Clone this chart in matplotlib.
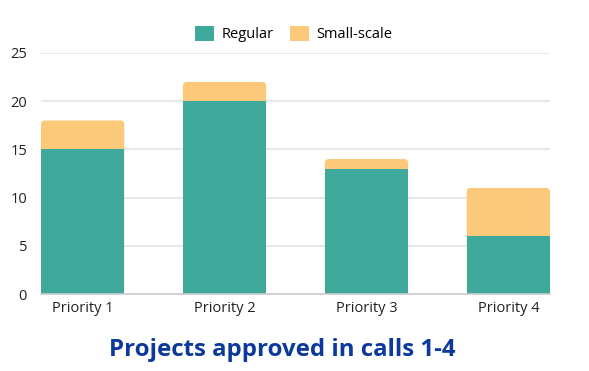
import matplotlib
matplotlib.use("Agg")
import matplotlib.pyplot as plt
from matplotlib.patches import FancyBboxPatch, Patch
import numpy as np

categories = ["Priority 1", "Priority 2", "Priority 3", "Priority 4"]
regular = [15, 20, 13, 6]
small_scale = [3, 2, 1, 5]
yticks = [0, 5, 10, 15, 20, 25]

teal = "#3ea89a"
orange = "#fcc97b"
title_color = "#0b3a9c"

plt.rcParams["font.family"] = ["Open Sans", "DejaVu Sans"]

fig = plt.figure(figsize=(5.89, 3.71), dpi=100)
ax = fig.add_axes([41 / 589, 77 / 371, 509 / 589, 241 / 371])

x = np.arange(len(categories))
width = 0.587
ax.set_xlim(-width / 2, len(categories) - 1 + width / 2)
ax.set_ylim(0, 25)

# px -> data scale, for rounded tops
x_per_px = (ax.get_xlim()[1] - ax.get_xlim()[0]) / 509
y_per_px = 25 / 241
radius = 4 * x_per_px

totals = [r + s for r, s in zip(regular, small_scale)]
for xi, tot in zip(x, totals):
    box = FancyBboxPatch((xi - width / 2, 0), width, tot,
                         boxstyle=f"round,pad=0,rounding_size={radius}",
                         mutation_aspect=y_per_px / x_per_px,
                         facecolor=orange, edgecolor="none", zorder=2)
    ax.add_patch(box)
ax.bar(x, regular, width=width, color=teal, zorder=3)

ax.set_yticks(yticks)
ax.set_xticks(x)
ax.set_xticklabels(categories)
ax.tick_params(axis="both", length=0, labelsize=10.5, colors="#222222")
ax.tick_params(axis="y", pad=10)
ax.tick_params(axis="x", pad=5)
ax.yaxis.grid(True, color="#e8e8e8", linewidth=1.5, zorder=0)
ax.set_axisbelow(True)
for side in ["top", "right", "left"]:
    ax.spines[side].set_visible(False)
ax.spines["bottom"].set_color("#cccccc")
ax.spines["bottom"].set_linewidth(1.2)
ax.spines["bottom"].set_zorder(4)

handles = [Patch(facecolor=teal, label="Regular"),
           Patch(facecolor=orange, label="Small-scale")]
fig.legend(handles=handles, loc="center", bbox_to_anchor=(294 / 589, 1 - 34 / 371),
           ncol=2, frameon=False, fontsize=10.5, handlelength=1.3, handleheight=1.3,
           handletextpad=0.5, columnspacing=1.15)

fig.text(282 / 589, 1 - 350 / 371, "Projects approved in calls 1-4",
         ha="center", va="center", fontsize=17.3, fontweight="bold", color=title_color)

fig.savefig("out.png", dpi=100)
